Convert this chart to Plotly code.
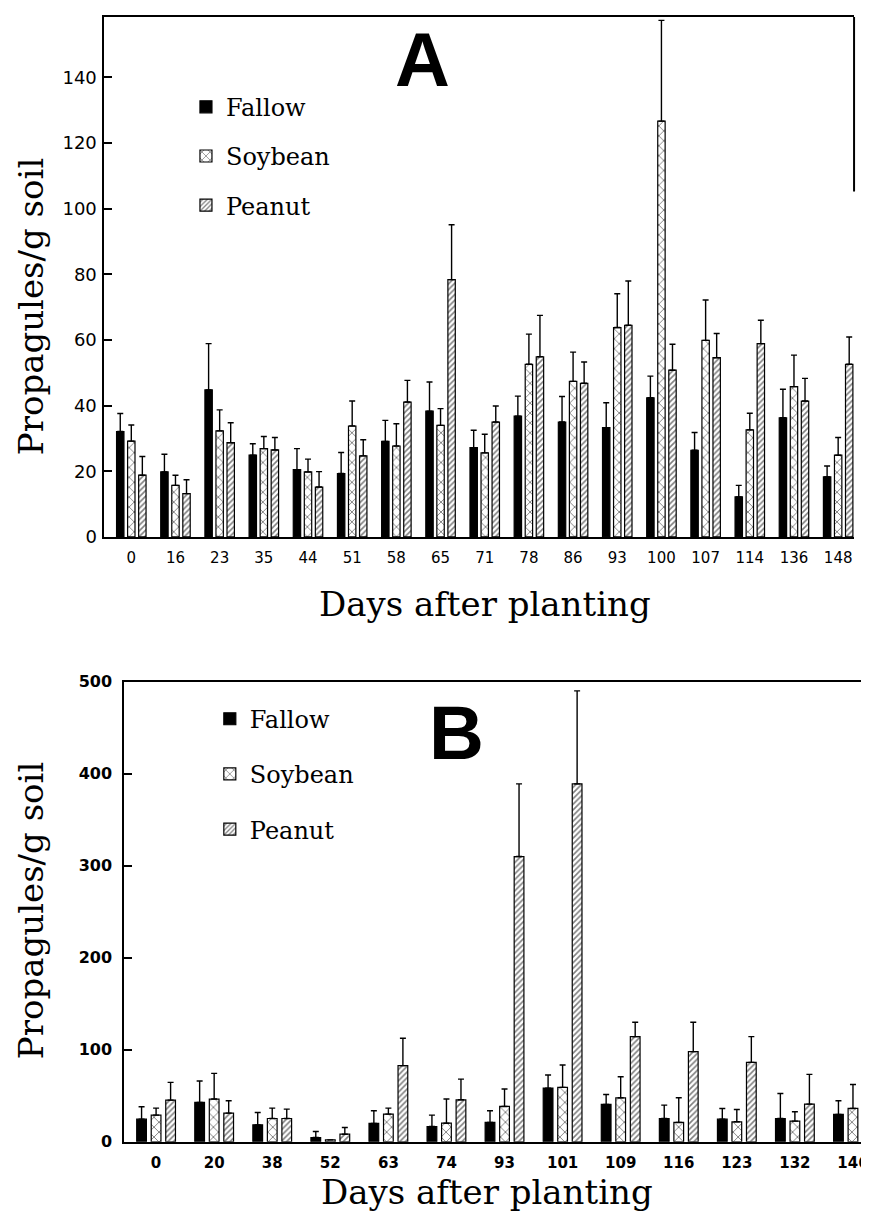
import plotly.graph_objects as go

# Page body has an 8px margin; positions below are given in reference-picture
# pixels and converted to paper fractions by px_x / px_y.
OFF = 8
FW, FH = 869 - OFF, 1218 - OFF
VS, VO = 0.986, 7.3   # observed vertical mapping of the photographed page

# ---------------- Panel A data ----------------
days_a = ["0", "16", "23", "35", "44", "51", "58", "65", "71", "78", "86",
          "93", "100", "107", "114", "136", "148"]
fallow_a = [32.1, 19.8, 44.8, 24.9, 20.5, 19.3, 29.1, 38.3, 27.2, 36.8, 35.0,
            33.3, 42.4, 26.4, 12.2, 36.3, 18.3]
fallow_a_err = [5.5, 5.4, 14.1, 3.5, 6.4, 6.4, 6.4, 8.9, 5.3, 6.1, 7.8,
                7.6, 6.6, 5.4, 3.5, 8.7, 3.3]
soy_a = [29.2, 15.7, 32.3, 26.9, 19.8, 33.8, 27.7, 34.0, 25.6, 52.6, 47.4,
         63.8, 126.7, 59.9, 32.6, 45.8, 24.9]
soy_a_err = [4.9, 3.1, 6.4, 3.7, 3.9, 7.6, 6.8, 5.1, 5.7, 9.2, 8.9,
             10.3, 30.7, 12.3, 5.1, 9.6, 5.4]
peanut_a = [18.8, 13.2, 28.7, 26.5, 15.2, 24.7, 41.1, 78.4, 35.0, 54.9, 46.8,
            64.5, 50.8, 54.6, 58.9, 41.4, 52.6]
peanut_a_err = [5.7, 4.2, 6.1, 3.8, 4.7, 4.9, 6.6, 16.7, 4.9, 12.6, 6.5,
                13.5, 7.9, 7.4, 7.1, 6.9, 8.3]

# ---------------- Panel B data ----------------
days_b = ["0", "20", "38", "52", "63", "74", "93", "101", "109", "116",
          "123", "132", "146"]
fallow_b = [24.7, 42.8, 18.5, 4.7, 20.0, 16.7, 21.1, 58.4, 40.7, 25.4,
            24.7, 25.4, 29.8]
fallow_b_err = [13.4, 23.3, 13.4, 6.6, 13.8, 12.3, 12.7, 14.2, 10.8, 14.5,
                11.6, 27.2, 14.8]
soy_b = [29.0, 46.5, 25.4, 2.2, 30.1, 20.3, 38.5, 59.2, 47.9, 21.1,
         21.8, 22.5, 36.3]
soy_b_err = [7.7, 27.9, 11.3, 0.0, 6.6, 26.2, 18.9, 24.3, 22.9, 26.8,
             13.4, 10.2, 26.1]
peanut_b = [45.4, 31.2, 25.4, 8.3, 82.8, 45.7, 310.0, 389.0, 114.3, 98.0,
            86.4, 41.0, 83.5]
peanut_b_err = [19.2, 13.4, 10.2, 7.3, 29.7, 22.5, 79.0, 101.0, 15.7, 32.0,
                27.9, 32.3, 25.0]

series_names = ["Fallow", "Soybean", "Peanut"]
yticks_a = [0, 20, 40, 60, 80, 100, 120, 140]
yticks_b = [0, 100, 200, 300, 400, 500]

styles = {
    "Fallow": dict(color="black", pattern=dict(shape="")),
    "Soybean": dict(color="white", pattern=dict(shape="x", fgcolor="black",
                                                 bgcolor="white", size=7,
                                                 solidity=0.25)),
    "Peanut": dict(color="white", pattern=dict(shape="/", fgcolor="black",
                                                bgcolor="white", size=4,
                                                solidity=0.4)),
}


def px_x(p):
    return min(max((p - OFF) / FW, 0.0), 1.0)


def px_y(p):
    page = (p - VO) / VS
    return min(max(1 - (page - OFF) / FH, 0.0), 1.0)


fig = go.Figure()

panel_a = [(fallow_a, fallow_a_err), (soy_a, soy_a_err), (peanut_a, peanut_a_err)]
panel_b = [(fallow_b, fallow_b_err), (soy_b, soy_b_err), (peanut_b, peanut_b_err)]

for name, (vals, errs) in zip(series_names, panel_a):
    st = styles[name]
    fig.add_trace(go.Bar(
        x=days_a, y=vals, name=name, xaxis="x", yaxis="y",
        legend="legend", legendgroup="a" + name,
        marker=dict(color=st["color"], pattern=st["pattern"],
                    line=dict(color="black", width=1.2)),
        error_y=dict(type="data", symmetric=False, array=errs,
                     arrayminus=[0] * len(errs), color="black",
                     thickness=1.4, width=3),
    ))

for name, (vals, errs) in zip(series_names, panel_b):
    st = styles[name]
    fig.add_trace(go.Bar(
        x=days_b, y=vals, name=name, xaxis="x2", yaxis="y2",
        legend="legend2", legendgroup="b" + name,
        marker=dict(color=st["color"], pattern=st["pattern"],
                    line=dict(color="black", width=1.2)),
        error_y=dict(type="data", symmetric=False, array=errs,
                     arrayminus=[0] * len(errs), color="black",
                     thickness=1.4, width=3),
    ))

tickfont_ax = dict(family="DejaVu Sans", size=15, color="black")
tickfont_ay = dict(family="DejaVu Sans", size=18, color="black")
tickfont_bx = dict(family="DejaVu Sans", size=15, color="black", weight="bold")
tickfont_by = dict(family="DejaVu Sans", size=16, color="black", weight="bold")
legend_font = dict(family="DejaVu Serif", size=24, color="black")

# panel A: 0 at y=536, 3.2875 px per unit; top of frame as high as possible
a_top_px = 15.2
a_ymax = (536 - a_top_px) / 3.2875

fig.update_layout(
    width=FW, height=FH,
    margin=dict(l=0, r=0, t=0, b=0),
    paper_bgcolor="white", plot_bgcolor="white",
    barmode="group", bargap=0.25, bargroupgap=0.33,
    xaxis=dict(domain=[px_x(105), px_x(859)], anchor="y",
               range=[-0.608, 16.36], showline=True, linecolor="black",
               linewidth=2, mirror=True, ticks="", showgrid=False,
               tickfont=tickfont_ax, ticklabelstandoff=6),
    yaxis=dict(domain=[px_y(536), px_y(a_top_px)], anchor="x",
               range=[0, a_ymax], tickvals=yticks_a, showline=True,
               linecolor="black", linewidth=2, ticks="inside", ticklen=8,
               tickwidth=1.5, tickcolor="black", showgrid=False,
               zeroline=False, tickfont=tickfont_ay, ticklabelstandoff=2),
    xaxis2=dict(domain=[px_x(125), px_x(869)], anchor="y2",
                range=[-0.547, 12.19], showline=True, linecolor="black",
                linewidth=2, mirror=True, ticks="", showgrid=False,
                tickfont=tickfont_bx, ticklabelstandoff=6),
    yaxis2=dict(domain=[px_y(1142), px_y(681)], anchor="x2",
                range=[0, 500], tickvals=yticks_b, showline=True,
                linecolor="black", linewidth=2, ticks="inside", ticklen=8,
                tickwidth=1.5, tickcolor="black", showgrid=False,
                zeroline=False, tickfont=tickfont_by, ticklabelstandoff=7),
    legend=dict(x=px_x(187), y=px_y(83), xanchor="left", yanchor="top",
                font=legend_font, tracegroupgap=15,
                bgcolor="rgba(0,0,0,0)", borderwidth=0),
    legend2=dict(x=px_x(211), y=px_y(696), xanchor="left", yanchor="top",
                 font=legend_font, tracegroupgap=21,
                 bgcolor="rgba(0,0,0,0)", borderwidth=0),
    showlegend=True,
)

# partial right border of panel A (faded lower part in the original)
fig.add_shape(type="line", xref="paper", yref="paper",
              x0=px_x(859), x1=px_x(859), y0=px_y(a_top_px), y1=px_y(190),
              line=dict(color="black", width=2))

title_font = dict(family="DejaVu Serif", size=34, color="black")
annos = [
    dict(text="Propagules/g soil", x=px_x(31), y=px_y(305), textangle=-90,
         font=title_font),
    dict(text="Days after planting", x=px_x(488), y=px_y(603),
         font=title_font),
    dict(text="Propagules/g soil", x=px_x(31), y=px_y(910), textangle=-90,
         font=title_font),
    dict(text="Days after planting", x=px_x(490), y=px_y(1192),
         font=title_font),
    dict(text="<b>A</b>", x=px_x(425), y=px_y(58),
         font=dict(family="Liberation Sans", size=76, color="black")),
    dict(text="<b>B</b>", x=px_x(459), y=px_y(732),
         font=dict(family="Liberation Sans", size=76, color="black")),
]
for a in annos:
    fig.add_annotation(xref="paper", yref="paper", showarrow=False,
                       xanchor="center", yanchor="middle", **a)

fig.write_html("out.html")
